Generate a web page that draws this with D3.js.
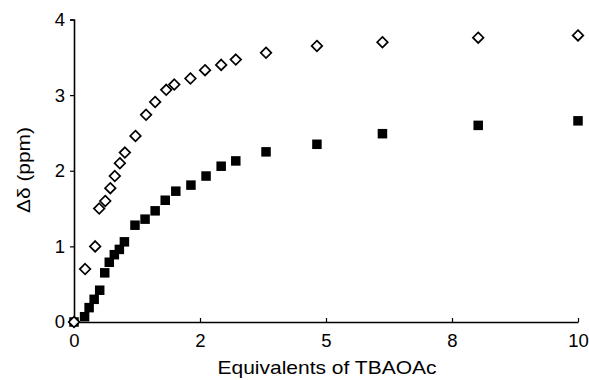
<!DOCTYPE html>
<html>
<head>
<meta charset="utf-8">
<script src="https://cdn.jsdelivr.net/npm/d3@7"></script>
<style>
  body { margin: 0; background: #fff; }
  text { font-family: "Liberation Sans", Arial, sans-serif; fill: #000; }
</style>
</head>
<body>
<svg id="chart" width="589" height="380"></svg>
<script>
// open diamonds
var xOpen = [0, 0.22, 0.42, 0.50, 0.62, 0.72, 0.81, 0.91, 1.01, 1.22, 1.43, 1.61, 1.83, 1.99, 2.31, 2.60, 2.92, 3.21, 3.81, 4.82, 6.12, 8.02, 10.0];
var yOpen = [0, 0.70, 1.00, 1.50, 1.60, 1.77, 1.93, 2.10, 2.24, 2.46, 2.74, 2.91, 3.07, 3.14, 3.22, 3.33, 3.40, 3.47, 3.56, 3.65, 3.70, 3.76, 3.79];

// filled squares
var xFilled = [0, 0.21, 0.30, 0.40, 0.51, 0.61, 0.70, 0.80, 0.90, 1.00, 1.21, 1.41, 1.61, 1.81, 2.02, 2.32, 2.62, 2.92, 3.21, 3.81, 4.82, 6.12, 8.02, 10.0];
var yFilled = [0, 0.07, 0.19, 0.30, 0.42, 0.65, 0.79, 0.89, 0.96, 1.06, 1.28, 1.36, 1.47, 1.61, 1.73, 1.81, 1.93, 2.06, 2.13, 2.25, 2.35, 2.49, 2.60, 2.66];

// axis ticks
var xTicks = [0, 2.5, 5, 7.5, 10];
var xTickLabels = ['0', '2', '5', '8', '10'];
var yTicks = [0, 1, 2, 3, 4];

var svg = d3.select('#chart');

var x = d3.scaleLinear().domain([0, 10]).range([74, 578]);
var y = d3.scaleLinear().domain([0, 4]).range([322, 19.5]);

// y axis
var yAxis = svg.append('g')
    .attr('transform', 'translate(' + x(0) + ',0)')
    .call(d3.axisLeft(y).tickValues(yTicks).tickSize(4).tickPadding(5).tickFormat(d3.format('d')));

// x axis, ticks pointing up
var xAxis = svg.append('g')
    .attr('transform', 'translate(0,' + y(0) + ')')
    .call(d3.axisBottom(x).tickValues(xTicks).tickSizeInner(-4).tickSizeOuter(0).tickPadding(12)
        .tickFormat(function (d, i) { return xTickLabels[i]; }));

[xAxis, yAxis].forEach(function (g) {
    g.select('.domain').attr('stroke', '#000').attr('stroke-width', 1.6);
    g.selectAll('.tick line').attr('stroke', '#000').attr('stroke-width', 1.2);
    g.selectAll('.tick text').attr('font-size', 18.5).attr('font-family', '"Liberation Sans", Arial, sans-serif');
});
xAxis.selectAll('.tick text').attr('dy', '0.71em');

// titles
svg.append('text')
    .attr('x', 327)
    .attr('y', 374)
    .attr('text-anchor', 'middle')
    .attr('font-size', 18.5)
    .attr('textLength', 219)
    .attr('lengthAdjust', 'spacingAndGlyphs')
    .text('Equivalents of TBAOAc');

svg.append('text')
    .attr('transform', 'translate(30,170) rotate(-90)')
    .attr('text-anchor', 'middle')
    .attr('font-size', 18.5)
    .attr('textLength', 86)
    .attr('lengthAdjust', 'spacingAndGlyphs')
    .text('Δδ (ppm)');

// squares
var s = 9.5;
svg.append('g').selectAll('rect')
    .data(d3.range(xFilled.length))
    .join('rect')
    .attr('x', function (i) { return x(xFilled[i]) - s / 2; })
    .attr('y', function (i) { return y(yFilled[i]) - s / 2; })
    .attr('width', s)
    .attr('height', s)
    .attr('fill', '#000');

// diamonds
var d = 5.3;
svg.append('g').selectAll('path')
    .data(d3.range(xOpen.length))
    .join('path')
    .attr('d', function (i) {
        var cx = x(xOpen[i]), cy = y(yOpen[i]);
        return 'M' + cx + ',' + (cy - d) + 'L' + (cx + d) + ',' + cy + 'L' + cx + ',' + (cy + d) + 'L' + (cx - d) + ',' + cy + 'Z';
    })
    .attr('fill', '#fff')
    .attr('stroke', '#000')
    .attr('stroke-width', 1.7);
</script>
</body>
</html>
